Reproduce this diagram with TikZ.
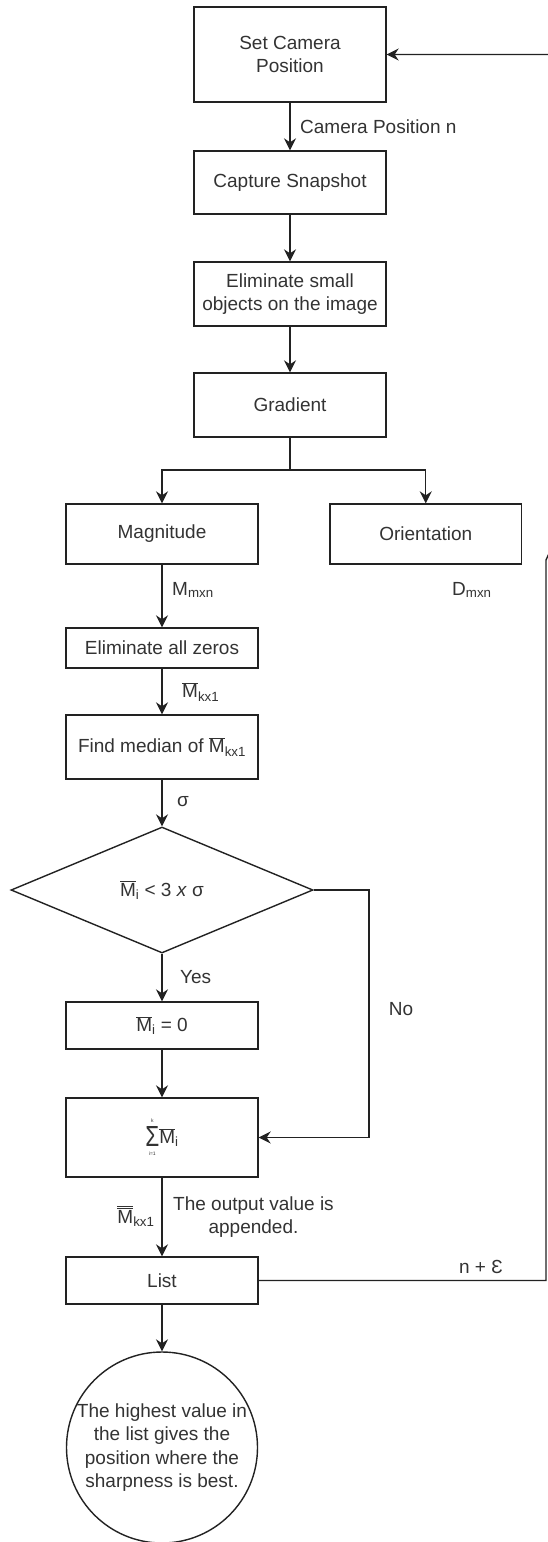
\documentclass[tikz,border=0pt]{standalone}
\usepackage{fix-cm}
\usepackage{fontspec}
\setmainfont{Liberation Sans}
\usetikzlibrary{shapes.geometric,arrows.meta}
\definecolor{txt}{HTML}{333333}
\definecolor{ln}{HTML}{222222}
\newcommand{\Mbar}{\ensuremath{\overline{\mbox{M}}}}
\newcommand{\Mbbar}{\ensuremath{\overline{\overline{\mbox{M}}}}}
\begin{document}
\begin{tikzpicture}[x=1pt,y=-1pt,
  font=\fontsize{19}{23.5}\selectfont,
  box/.style={draw=ln, line width=1.4pt, rectangle, inner sep=2pt, align=center, text=txt, minimum width=192pt},
  arr/.style={draw=ln, line width=1.4pt, -{Stealth[length=12pt,width=12pt,inset=4pt]}},
  con/.style={draw=ln, line width=1.4pt},
  lbl/.style={text=txt, inner sep=0pt, align=center}]
\useasboundingbox (0,0) rectangle (548,1542);
\clip (0,0) rectangle (548,1542);
\fill[white] (0,0) rectangle (548,1542);

% nodes
\node[box, minimum height=95pt] (setcam) at (290,54.5) {Set Camera\\Position};
\node[box, minimum height=63pt] (capture) at (290,182.5) {Capture Snapshot};
\node[box, minimum height=64pt] (elim) at (290,294) {Eliminate small\\objects on the image};
\node[box, minimum height=64pt] (grad) at (290,405) {Gradient};
\node[box, minimum height=60pt] (mag) at (162,534) {Magnitude};
\node[box, minimum height=60pt, minimum width=191.5pt] (orient) at (425.75,534) {Orientation};
\node[box, minimum height=40pt] (zeros) at (162,648) {Eliminate all zeros};
\node[box, minimum height=64pt] (median) at (162,747) {Find median of \Mbar\textsubscript{kx1}};
\node[draw=ln, line width=1.4pt, diamond, minimum width=302pt, minimum height=126pt, inner sep=0pt, text=txt] (dia) at (162,890) {\Mbar\textsubscript{i} < 3 \textit{x} σ};
\node[box, minimum height=47pt] (zero) at (162,1025.5) {\Mbar\textsubscript{i} = 0};
\node[box, minimum height=79pt] (sum) at (162,1137.5) {\raisebox{-3pt}{\(\mathop{\mbox{\resizebox{14pt}{20pt}{Σ}}}\limits^{\mbox{\raisebox{2pt}{\fontsize{5}{5}\selectfont k}}}_{\mbox{\raisebox{-3pt}{\fontsize{5}{5}\selectfont i=1}}}\)}\Mbar\textsubscript{i}};
\node[box, minimum height=47pt] (list) at (162,1280.5) {List};
\node[draw=ln, line width=1.4pt, circle, minimum size=191pt, inner sep=0pt, align=center, text=txt] (final) at (162,1447.5) {The highest value in\\the list gives the\\position where the\\sharpness is best.};

% labels
\node[lbl, anchor=west] (lcam) at (300,127) {Camera Position n};
\node[lbl, anchor=west] (lmmxn) at (172,590) {M\textsubscript{mxn}};
\node[lbl, anchor=west] (ldmxn) at (452,590) {D\textsubscript{mxn}};
\node[lbl, anchor=west] (lmkx1) at (182,692) {\Mbar\textsubscript{kx1}};
\node[lbl] (lsig) at (183,802) {σ};
\node[lbl, anchor=west] (lyes) at (180,977) {Yes};
\node[lbl] (lno) at (401,1009) {No};
\node[lbl] (lmm) at (136,1216) {\Mbbar\textsubscript{kx1}};
\node[lbl] (lout) at (253.5,1217) {The output value is\\appended.};
\node[lbl] (leps) at (481,1267) {n + Ɛ};

% connectors
\coordinate (split) at (290,470);
\draw[arr] (setcam) -- (capture);
\draw[arr] (capture) -- (elim);
\draw[arr] (elim) -- (grad);
\draw[con] (grad.south) -- (split);
\draw[arr] (split) -| (mag.north);
\draw[arr] (split) -| (orient.north);
\draw[arr] (mag) -- (zeros);
\draw[arr] (zeros) -- (median);
\draw[arr] (median) -- (dia.north);
\draw[arr] (dia.south) -- (zero);
\draw[arr] (dia.east) -- (369,890) |- (sum.east);
\draw[arr] (zero) -- (sum);
\draw[arr] (sum) -- (list);
\draw[arr] (list) -- (final.north);
\draw[arr] (list.east) -- (546,1280.5) -- (546,560) -- (553,545) |- (setcam.east);
\end{tikzpicture}
\end{document}
